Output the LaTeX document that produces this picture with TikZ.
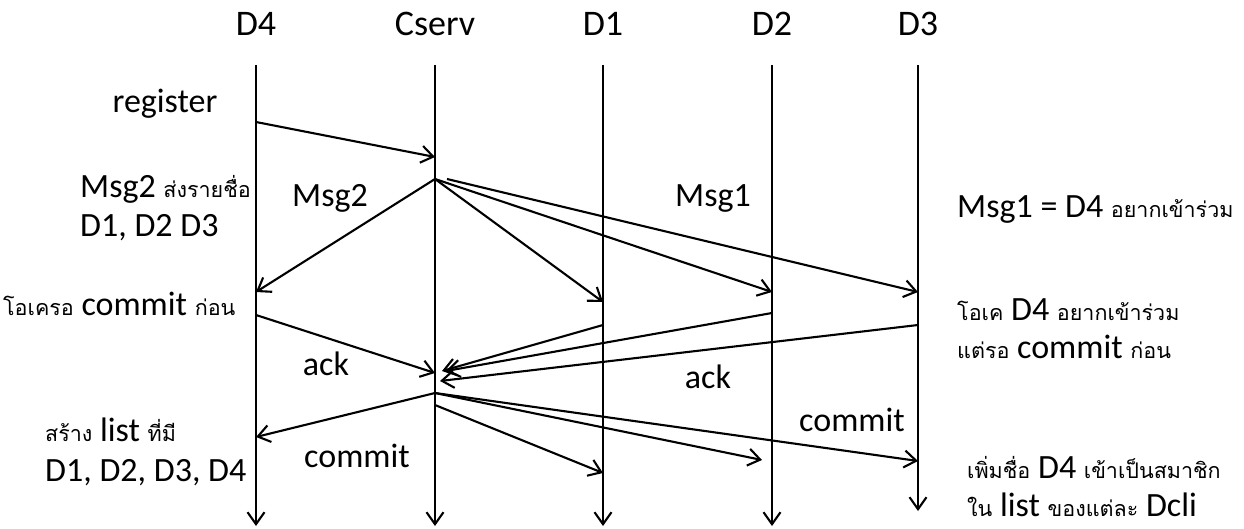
\documentclass[tikz,border=0pt]{standalone}
\usepackage{fontspec}
\setmainfont{Carlito}
\newfontfamily\thaiff[Script=Thai]{Loma}
\newcommand{\thw}[1]{{\thaiff\fontsize{21.5}{25}\selectfont #1}}
\usetikzlibrary{arrows.meta}
\begin{document}
\begin{tikzpicture}[x=1pt,y=-1pt,
  life/.style={line width=2.1pt,-{Straight Barb[length=12pt,width=17pt,line width=2.1pt]}},
  msg/.style={line width=2.1pt,-{Straight Barb[length=12pt,width=17pt,line width=2.1pt]}},
  lbl/.style={inner sep=0pt,font=\fontsize{34}{38}\selectfont},
  hdr/.style={inner sep=0pt,font=\fontsize{36}{40}\selectfont,anchor=base}]
\useasboundingbox (0,0) rectangle (1244,529);
% lifeline heads
\node[hdr] (hD4) at (256,36) {D4};
\node[hdr] (hCs) at (435,36) {Cserv};
\node[hdr] (hD1) at (603,36) {D1};
\node[hdr] (hD2) at (772,36) {D2};
\node[hdr] (hD3) at (918,36) {D3};
% lifeline ends
\coordinate (tD4) at (256,65); \coordinate (bD4) at (256,526);
\coordinate (tCs) at (435,65); \coordinate (bCs) at (435,526);
\coordinate (tD1) at (603,65); \coordinate (bD1) at (603,526);
\coordinate (tD2) at (772,65); \coordinate (bD2) at (772,526);
\coordinate (tD3) at (918,65); \coordinate (bD3) at (918,511);
\foreach \n in {D4,Cs,D1,D2,D3} \draw[life] (t\n) -- (b\n);
% message points
\coordinate (r0) at (256,122); \coordinate (r1) at (435,157);
\coordinate (m0) at (435,179); \coordinate (m0b) at (447,179);
\coordinate (mD4) at (256,292); \coordinate (mD1) at (603,302);
\coordinate (mD2) at (772,292); \coordinate (mD3) at (918,292);
\coordinate (a4) at (256,315); \coordinate (a4e) at (435,373);
\coordinate (a1) at (603,325); \coordinate (a1e) at (442,371);
\coordinate (a2) at (772,313); \coordinate (a2e) at (446,371);
\coordinate (a3) at (918,325); \coordinate (a3e) at (440,381);
\coordinate (c0) at (435,393); \coordinate (c0b) at (435,405);
\coordinate (cD4) at (256,437); \coordinate (cD1) at (603,473);
\coordinate (cD2) at (762,460); \coordinate (cD3) at (918,461);
\draw[msg] (r0) -- (r1);
\draw[msg] (m0) -- (mD4);
\draw[msg] (m0) -- (mD1);
\draw[msg] (m0) -- (mD2);
\draw[msg] (m0b) -- (mD3);
\draw[msg] (a4) -- (a4e);
\draw[msg] (a1) -- (a1e);
\draw[msg] (a2) -- (a2e);
\draw[msg] (a3) -- (a3e);
\draw[msg] (c0) -- (cD4);
\draw[msg] (c0b) -- (cD1);
\draw[msg] (c0) -- (cD2);
\draw[msg] (c0) -- (cD3);
% labels
\node[lbl,anchor=base] (lreg) at (165,113) {register};
\node[lbl,anchor=base west] (lm2a) at (80,198) {Msg2 \thw{ส่งรายชื่อ}};
\node[lbl,anchor=base west] (lm2b) at (80,237) {D1, D2 D3};
\node[lbl,anchor=base west] (lok) at (3,315) {\thw{โอเครอ} commit \thw{ก่อน}};
\node[lbl,anchor=base] (lmsg2) at (330,207) {Msg2};
\node[lbl,anchor=base] (lmsg1) at (713,207) {Msg1};
\node[lbl,anchor=base west] (lm1) at (957,218) {Msg1 = D4 \thw{อยากเข้าร่วม}};
\node[lbl,anchor=base west] (lok2) at (957,320) {\thw{โอเค} D4 \thw{อยากเข้าร่วม}};
\node[lbl,anchor=base west] (lwait) at (957,358) {\thw{แต่รอ} commit \thw{ก่อน}};
\node[lbl,anchor=base] (lack1) at (326,375) {ack};
\node[lbl,anchor=base] (lack2) at (708,388) {ack};
\node[lbl,anchor=base] (lcom2) at (852,431) {commit};
\node[lbl,anchor=base] (lcom1) at (357,467) {commit};
\node[lbl,anchor=base west] (lmk) at (45,441) {\thw{สร้าง} list \thw{ที่มี}};
\node[lbl,anchor=base west] (llist) at (45,481) {D1, D2, D3, D4};
\node[lbl,anchor=base west] (ladd) at (967,478) {\thw{เพิ่มชื่อ} D4 \thw{เข้าเป็นสมาชิก}};
\node[lbl,anchor=base west] (lin) at (967,516) {\thw{ใน} list \thw{ของแต่ละ} Dcli};
\end{tikzpicture}
\end{document}
